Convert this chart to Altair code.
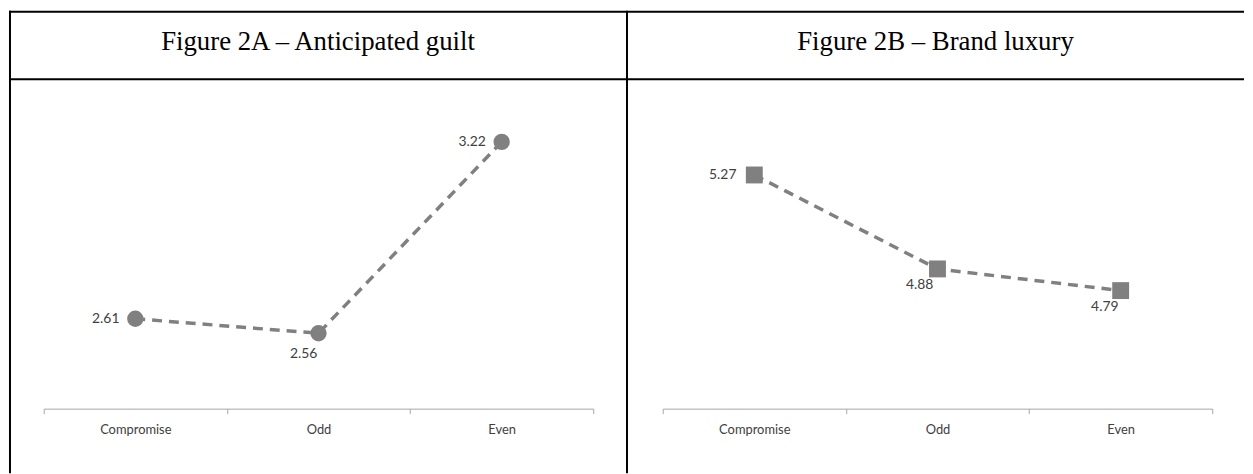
import altair as alt
import pandas as pd

conditions = ["Compromise", "Odd", "Even"]
guilt = [2.61, 2.56, 3.22]
luxury = [5.27, 4.88, 4.79]
titles = ["Figure 2A – Anticipated guilt", "Figure 2B – Brand luxury"]

GRAY = "#808080"
AXIS_GRAY = "#A6A6A6"
LABEL = "#404040"
H = 466


def panel(values, title, width, xrange, ydomain, shape, size, left_cfg, below_cfg, right_border):
    df = pd.DataFrame({"cond": conditions, "val": values,
                       "lab": [f"{v:.2f}" for v in values]})
    base = alt.Chart(df)
    x = alt.X("cond:N", sort=conditions,
              scale=alt.Scale(type="band", range=xrange, paddingInner=0, paddingOuter=0),
              axis=alt.Axis(title=None, offset=-65, tickBand="extent", domainColor=AXIS_GRAY,
                            tickColor=AXIS_GRAY, tickSize=5, labelAngle=0, labelFont="Lato",
                            labelFontSize=13, labelColor=LABEL, labelPadding=10, grid=False))
    y = alt.Y("val:Q", scale=alt.Scale(domain=ydomain, range=[401, 78], zero=False, nice=False),
              axis=None)
    one = alt.Chart(pd.DataFrame({"t": [title]}))
    layers = [
        one.mark_rule(color="black", strokeWidth=2).encode(x=alt.value(0), x2=alt.value(width), y=alt.value(1)),
        one.mark_rule(color="black", strokeWidth=2).encode(x=alt.value(0), x2=alt.value(width), y=alt.value(69)),
        one.mark_text(font="Liberation Serif", fontSize=27, color="black", baseline="middle",
                      align="center").encode(text="t:N", x=alt.value(width / 2), y=alt.value(31)),
    ]
    if right_border:
        layers.append(one.mark_rule(color="black", strokeWidth=2).encode(
            x=alt.value(1), y=alt.value(0), y2=alt.value(H)))
        layers.append(one.mark_rule(color="black", strokeWidth=2).encode(
            x=alt.value(width), y=alt.value(0), y2=alt.value(H)))
    layers.append(base.mark_line(color=GRAY, strokeWidth=3.5, strokeDash=[10, 7]).encode(x=x, y=y))
    layers.append(base.mark_point(shape=shape, filled=True, opacity=1, color=GRAY, size=size)
                  .encode(x=x, y=y))
    for cat, dx, dy, align in left_cfg + below_cfg:
        layers.append(base.transform_filter(alt.datum.cond == cat)
                      .mark_text(align=align, baseline="middle", dx=dx, dy=dy, font="Lato",
                                 fontSize=14, color=LABEL)
                      .encode(x=x, y=y, text="lab:N"))
    return alt.layer(*layers).properties(width=width, height=H)


pA = panel(guilt, titles[0], 623, [35, 589], [2.3, 3.405], "circle", 270,
           [("Compromise", -16, 0, "right"), ("Even", -16, 0, "right")],
           [("Odd", -15, 21, "center")], True)
pB = panel(luxury, titles[1], 622, [36, 590], [4.3, 5.63], "square", 290,
           [("Compromise", -18, 0, "right")],
           [("Odd", -18, 16, "center"), ("Even", -16, 17, "center")], False)

chart = alt.hconcat(pA, pB, spacing=0, bounds="flush").configure_view(stroke=None).properties(padding=0)

chart.save("out.html", embed_options={"renderer": "svg", "actions": False})
